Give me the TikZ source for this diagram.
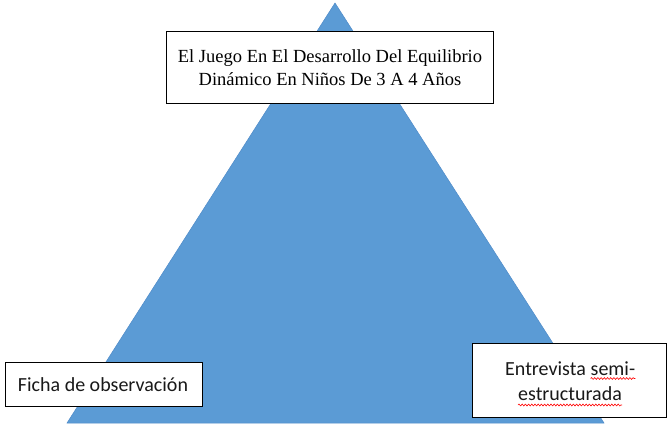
\documentclass[tikz,border=0pt]{standalone}
\usepackage{fontspec}
\setmainfont{Liberation Serif}
\newfontfamily\calib{Carlito}
\usetikzlibrary{decorations.pathmorphing}
\definecolor{triblue}{HTML}{5B9BD5}
\definecolor{triedge}{HTML}{4F8BC9}
\tikzset{
  labelbox/.style={draw=black, line width=1pt, fill=white, inner sep=0pt},
  wtext/.style={inner sep=0pt, font=\calib\fontsize{20}{25}\selectfont, text=black!90},
  spell/.style={draw=red, line width=0.6pt, decorate, decoration={snake, amplitude=0.9pt, segment length=3.2pt}}
}
\begin{document}
\begin{tikzpicture}[x=1pt,y=-1pt]
\useasboundingbox (0,0) rectangle (668,423);
% triangle
\coordinate (apex) at (335,3);
\coordinate (bl) at (67,423);
\coordinate (br) at (604,423);
\fill[triblue, draw=triedge, line width=0.5pt] (apex) -- (br) -- (bl) -- cycle;
% title box
\node[labelbox, minimum width=327pt, minimum height=72pt, anchor=north west] (title) at (166,31) {};
\node[inner sep=0pt, align=center, font=\fontsize{18.5}{23}\selectfont] (titletext) at (title.center)
  {El Juego En El Desarrollo Del Equilibrio\\Dinámico En Niños De 3 A 4 Años};
% left box
\node[labelbox, minimum width=197pt, minimum height=44pt, anchor=north west] (ficha) at (5,362) {};
\node[wtext, anchor=base] (fichatext) at (103,391) {Ficha de observación};
% right box
\node[labelbox, minimum width=194pt, minimum height=74pt, anchor=north west] (entre) at (472,343) {};
\node[wtext, anchor=base west] (ent) at (505,375) {Entrevista};
\node[wtext, anchor=base west] (semi) at ([xshift=4.5pt]ent.base east) {semi-};
\node[wtext, anchor=base] (estr) at (570,400) {estructurada};
\draw[spell] ([yshift=-3.5pt]semi.base west) -- ([yshift=-3.5pt]semi.base east);
\draw[spell] ([yshift=-5pt]estr.base west) -- ([yshift=-5pt]estr.base east);
\end{tikzpicture}
\end{document}
